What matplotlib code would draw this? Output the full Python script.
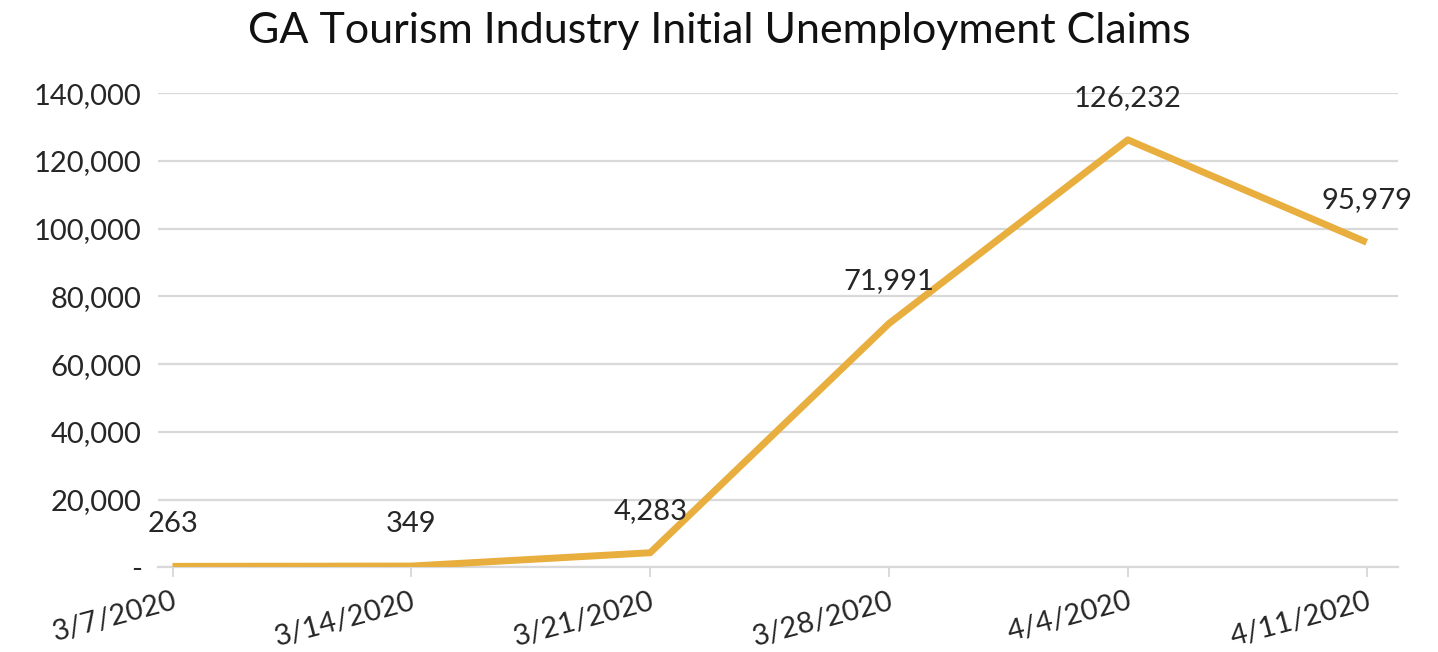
import matplotlib
matplotlib.use("Agg")
import matplotlib.pyplot as plt
from matplotlib.ticker import FuncFormatter

# weekly initial claims, GA tourism industry
weeks = ['3/7/2020', '3/14/2020', '3/21/2020', '3/28/2020', '4/4/2020', '4/11/2020']
claims = [263, 349, 4283, 71991, 126232, 95979]
y_ticks = [0, 20000, 40000, 60000, 80000, 100000, 120000, 140000]

plt.rcParams['font.family'] = ['Lato', 'DejaVu Sans']

fig = plt.figure(figsize=(14.38, 6.52), dpi=100)
ax = fig.add_axes([0.110, 0.130, 0.862, 0.727])

x = list(range(len(weeks)))
ax.plot(x, claims, color='#E8AE3E', linewidth=5, solid_capstyle='butt', zorder=3)

# data labels above each point
for xi, v in zip(x, claims):
    ax.annotate(f'{v:,}', (xi, v), xytext=(0, 21), textcoords='offset points',
                ha='center', va='bottom', fontsize=21, color='#262626')

ax.set_ylim(0, 140000)
ax.set_yticks(y_ticks)
ax.yaxis.set_major_formatter(FuncFormatter(lambda v, p: '-' if v == 0 else f'{int(v):,}'))
ax.set_xlim(-0.06, 5.13)
ax.set_xticks(x)
ax.set_xticklabels(weeks, rotation=15, ha='right', rotation_mode='anchor')

ax.grid(axis='y', color='#D9D9D9', linewidth=1.6, zorder=0)
for s in ['top', 'right', 'left']:
    ax.spines[s].set_visible(False)
ax.spines['bottom'].set_color('#D9D9D9')
ax.spines['bottom'].set_linewidth(1.6)
ax.spines['bottom'].set_zorder(1)

ax.tick_params(axis='y', length=0, pad=12, labelsize=21, labelcolor='#262626')
ax.tick_params(axis='x', length=7, width=1.4, color='#D9D9D9', pad=8,
               labelsize=21, labelcolor='#262626')

fig.text(0.5, 0.952, 'GA Tourism Industry Initial Unemployment Claims',
         ha='center', va='center', fontsize=31, color='#111111')

fig.savefig('out.png', dpi=100)
